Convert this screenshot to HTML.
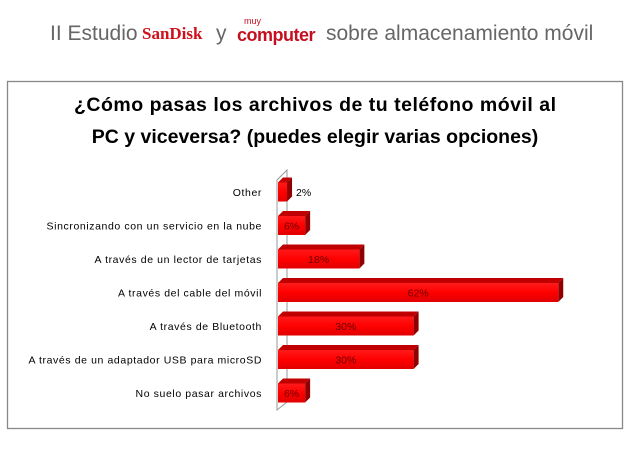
<!DOCTYPE html>
<html><head><meta charset="utf-8"><style>
body{margin:0;width:630px;height:450px;background:#fff;overflow:hidden;font-family:"Liberation Sans",sans-serif;}
</style></head><body>
<svg width="630" height="450" xmlns="http://www.w3.org/2000/svg">
<defs>
<linearGradient id="gf" x1="0" y1="0" x2="0" y2="1"><stop offset="0" stop-color="#ff1a1a"/><stop offset="0.5" stop-color="#ff0000"/><stop offset="1" stop-color="#e00000"/></linearGradient>
</defs>
<g>
<text x="50" y="40" font-size="21" fill="#666">II Estudio</text>
<text x="142" y="39" font-size="17" font-family="Liberation Serif,serif" font-weight="bold" fill="#d0101a">SanDisk</text>
<text x="216" y="40" font-size="21" fill="#666">y</text>
<text x="244" y="24" font-size="9" fill="#c41020">muy</text>
<text x="237" y="41" font-size="18" font-weight="bold" fill="#c41020" letter-spacing="-0.5">computer</text>
<text x="326" y="40" font-size="21" fill="#666">sobre almacenamiento móvil</text>
</g>
<rect x="7.5" y="81.5" width="615" height="347" fill="#fff" stroke="#888" stroke-width="1.3"/>
<text x="315" y="111" font-size="19.5" font-weight="bold" text-anchor="middle" fill="#000" textLength="482">¿Cómo pasas los archivos de tu teléfono móvil al</text>
<text x="315" y="143" font-size="19.5" font-weight="bold" text-anchor="middle" fill="#000">PC y viceversa? (puedes elegir varias opciones)</text>
<polygon points="277,410 277,180 287,170 287,402" fill="#fff" stroke="#999" stroke-width="1"/>
<g id="bars"></g>
</svg>
<script>
const categories=["Other","Sincronizando con un servicio en la nube","A través de un lector de tarjetas","A través del cable del móvil","A través de Bluetooth","A través de un adaptador USB para microSD","No suelo pasar archivos"];
const values=[2,6,18,62,30,30,6];
const labels=["2%","6%","18%","62%","30%","30%","6%"];
const x0=278,pxPer=4.52,y0=192,pitch=33.5,h=19,d=5;
const xs=v=>x0+v*pxPer, yc=i=>y0+i*pitch;
const g=document.getElementById('bars');const NS="http://www.w3.org/2000/svg";
function mk(t,a){const e=document.createElementNS(NS,t);for(const k in a)e.setAttribute(k,a[k]);g.appendChild(e);return e;}
categories.forEach((c,i)=>{
 const y=yc(i)-h/2, x1=xs(values[i]);
 const lb=mk('text',{x:262,y:yc(i)+4,'font-size':10.5,'letter-spacing':0.6,'text-anchor':'end',fill:'#000'});lb.textContent=c;
 
 
 const top=mk('polygon',{points:`${x0},${y} ${x0+d},${y-d} ${x1+d},${y-d} ${x1},${y}`,fill:'#c00000'});
 
 
 const side=mk('polygon',{points:`${x1},${y} ${x1+d},${y-d} ${x1+d},${y+h-d} ${x1},${y+h}`,fill:'#900000'});
 
 
 const r=mk('rect',{x:x0,y:y,width:x1-x0,height:h,fill:'url(#gf)'});
 
 
 const inside=values[i]>=4;
 const t=mk('text',{x:inside?(x0+x1)/2:x1+d+4,y:yc(i)+4,'font-size':10.5,'text-anchor':inside?'middle':'start',fill:inside?'#600':'#000'});
 t.textContent=labels[i];
 
 
});
</script>
</body></html>
